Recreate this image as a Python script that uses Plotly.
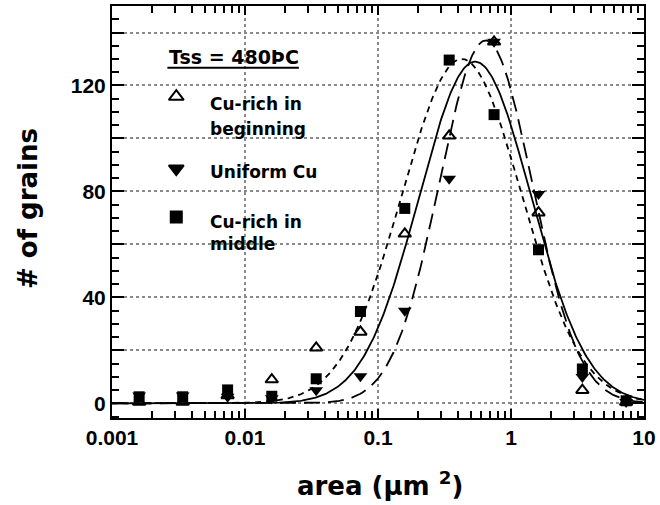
import numpy as np
import plotly.graph_objects as go

# grain-area bins (µm^2) and grain counts per bin
area_bins = [0.0016, 0.0034, 0.0074, 0.0159, 0.0343, 0.0738, 0.159, 0.343, 0.746, 1.61, 3.44, 7.34]
cu_rich_beginning = [0.5, 0.5, 3, 9, 21, 27, 64, 101, 136.5, 72, 5, 0.5]
uniform_cu = [3, 3, 2.5, 2, 5, 10.3, 35, 84.8, 136.5, 79, 10, 0.5]
cu_rich_middle = [2.5, 2.5, 5.1, 2.7, 9.3, 34.7, 73.6, 129.6, 109, 58, 13, 1]

# log-normal fits: [peak count, log10 of peak area, log10 width]
fit_beginning = [129, -0.27, 0.42]
fit_uniform = [137, -0.19, 0.35]
fit_middle = [130, -0.37, 0.45]

x_ticks = [0.001, 0.01, 0.1, 1, 10]
x_tick_text = ["0.001", "0.01", "0.1", "1", "10"]
y_ticks = [0, 20, 40, 60, 80, 100, 120, 140]
y_tick_text = ["0", "", "40", "", "80", "", "120", ""]

legend_title = "Tss = 480ÞC"
legend_labels = [["Cu-rich in", "beginning"], ["Uniform Cu"], ["Cu-rich in", "middle"]]

# plot-area geometry (pixels) used to place the in-plot key
W, H = 660, 505
L, R, T, B = 112, 650, 4, 418


def px(x):
    return (x - L) / (R - L)


def py(y):
    return (B - y) / (B - T)


def lognormal(p, x):
    a, mu, s = p
    return a * np.exp(-(np.log10(x) - mu) ** 2 / (2 * s ** 2))


xfit = np.logspace(-3, 1, 500)
fig = go.Figure()

fig.add_trace(go.Scatter(x=xfit, y=lognormal(fit_beginning, xfit), mode="lines",
                         line=dict(color="black", width=1.8), showlegend=False))
fig.add_trace(go.Scatter(x=xfit, y=lognormal(fit_uniform, xfit), mode="lines",
                         line=dict(color="black", width=1.8, dash="16px,8px"), showlegend=False))
fig.add_trace(go.Scatter(x=xfit, y=lognormal(fit_middle, xfit), mode="lines",
                         line=dict(color="black", width=1.8, dash="6px,5px"), showlegend=False))

fig.add_trace(go.Scatter(x=area_bins, y=cu_rich_middle, mode="markers",
                         marker=dict(symbol="square", size=11, color="black"), showlegend=False))
fig.add_trace(go.Scatter(x=area_bins, y=uniform_cu, mode="markers",
                         marker=dict(symbol="triangle-down", size=12, color="black"), showlegend=False))
fig.add_trace(go.Scatter(x=area_bins, y=cu_rich_beginning, mode="markers",
                         marker=dict(symbol="triangle-up-open", size=11, color="black",
                                     line=dict(width=2, color="black")), showlegend=False))

# key symbols on an invisible overlay axis
key_y = [95, 167.5, 216]
key_sym = ["triangle-up-open", "triangle-down", "square"]
key_size = [13, 13, 11]
for yy, sym, sz in zip(key_y, key_sym, key_size):
    fig.add_trace(go.Scatter(x=[px(177)], y=[py(yy)], xaxis="x2", yaxis="y2", mode="markers",
                             marker=dict(symbol=sym, size=sz, color="black",
                                         line=dict(width=2, color="black")),
                             showlegend=False, cliponaxis=False))

tick_font = dict(family="Liberation Sans", size=21, color="black", weight="bold")
key_font = dict(family="DejaVu Sans", size=17, color="black", weight="bold")
title_font = dict(family="DejaVu Sans", size=26, color="black", weight="bold")

grid = dict(showgrid=True, gridcolor="#8a8a8a", griddash="dot", gridwidth=1.5)
axline = dict(showline=True, linecolor="black", linewidth=2, mirror="allticks",
              ticks="inside", tickcolor="black", tickwidth=2)

minor_x = [m * 10.0 ** e for e in range(-3, 1) for m in range(2, 10)]
minor_y = [v for v in range(-5, 151, 5) if v % 20 != 0]

fig.update_layout(
    width=W, height=H,
    margin=dict(l=L, r=W - R, t=T, b=H - B),
    paper_bgcolor="white", plot_bgcolor="white",
    xaxis=dict(type="log", range=[-3, 1], tickmode="array", tickvals=x_ticks, ticktext=x_tick_text,
               ticklen=9, tickfont=tick_font, zeroline=False, ticklabeloverflow="allow",
               minor=dict(tickmode="array", tickvals=minor_x, ticks="inside", ticklen=7,
                          tickwidth=1.5, tickcolor="black", showgrid=False),
               **grid, **axline),
    yaxis=dict(range=[-5.5, 150], tickmode="array", tickvals=y_ticks, ticktext=y_tick_text,
               ticklen=12, tickfont=tick_font, zeroline=False,
               minor=dict(tickmode="array", tickvals=minor_y, ticks="inside", ticklen=7,
                          tickwidth=1.5, tickcolor="black", showgrid=False),
               **grid, **axline),
    xaxis2=dict(overlaying="x", range=[0, 1], visible=False),
    yaxis2=dict(overlaying="y", range=[0, 1], visible=False),
)

shapes = [
    dict(type="rect", xref="paper", yref="paper", x0=px(133), x1=px(345), y0=py(262), y1=py(73),
         fillcolor="white", line=dict(width=0), layer="between"),
    dict(type="rect", xref="paper", yref="paper", x0=px(160), x1=px(312), y0=py(68), y1=py(35),
         fillcolor="white", line=dict(width=0), layer="between"),
    dict(type="line", xref="paper", yref="paper", x0=px(168), x1=px(301), y0=py(66), y1=py(66),
         line=dict(color="black", width=2), layer="above"),
]
fig.update_layout(shapes=shapes)

ann = [dict(text=legend_title, x=px(168), y=py(55), xref="paper", yref="paper",
            xanchor="left", yanchor="middle", showarrow=False,
            font=dict(family="DejaVu Sans", size=19, color="black", weight="bold"))]
line_y = [[102, 128], [171], [221, 243]]
for labels, ys in zip(legend_labels, line_y):
    for t, yy in zip(labels, ys):
        ann.append(dict(text=t, x=px(209), y=py(yy), xref="paper", yref="paper",
                        xanchor="left", yanchor="middle", showarrow=False, font=key_font))
ann.append(dict(text="area (µm <sup>2</sup>)", x=px(383), y=py(484), xref="paper", yref="paper",
                xanchor="center", yanchor="middle", showarrow=False, font=title_font))
ann.append(dict(text="# of grains", x=px(27), y=py(207), xref="paper", yref="paper",
                xanchor="center", yanchor="middle", showarrow=False, textangle=-90, font=title_font))
fig.update_layout(annotations=ann)

fig.write_html("out.html")
